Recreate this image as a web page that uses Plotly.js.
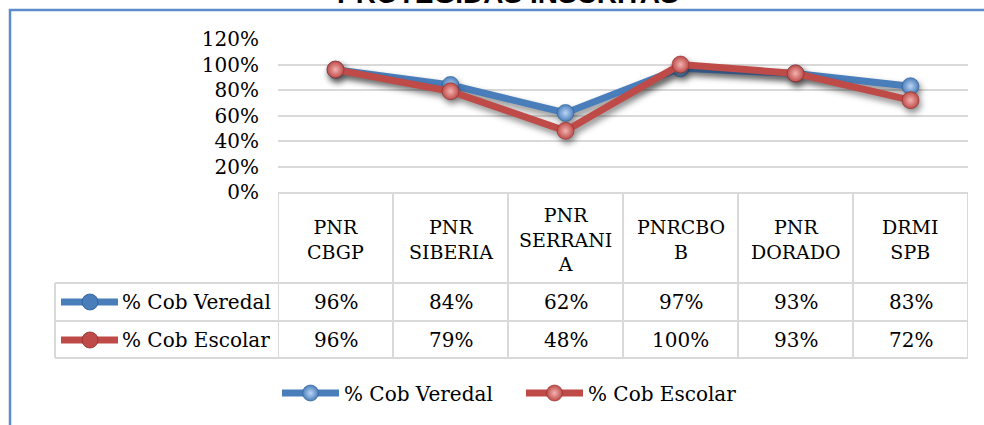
<!DOCTYPE html>
<html><head><meta charset="utf-8">
<script src="https://cdn.plot.ly/plotly-3.0.1.min.js"></script>
<style>
html,body{margin:0;padding:0;background:#fff;}
#chart{width:984px;height:425px;}
.scatterlayer .trace{filter:drop-shadow(2px 4px 3px rgba(0,0,0,0.45));}
</style></head><body><div id="chart"></div>
<script>
// ---- data ----
const categories = ["PNR CBGP","PNR SIBERIA","PNR SERRANIA","PNRCBOB","PNR DORADO","DRMI SPB"];
const headerLabels = ["PNR<br>CBGP","PNR<br>SIBERIA","PNR<br>SERRANI<br>A","PNRCBO<br>B","PNR<br>DORADO","DRMI<br>SPB"];
const seriesNames = ["% Cob Veredal","% Cob Escolar"];
const coberturaVeredal = [0.96,0.84,0.62,0.97,0.93,0.83];
const coberturaEscolar = [0.96,0.79,0.48,1.00,0.93,0.72];
const titleText = "PROTEGIDAS INSCRITAS";

// ---- styling / layout helpers ----
const FONT = "'DejaVu Serif', serif";
const colors = ["#4A7EBB","#BE4B48"];
const gradColors = ["#BBD5F5","#F2B3B1"];
const markerEdge = ["#2B5A94","#8E2C2A"];
const L = 278, R = 968, T = 39, B = 192;
const pw = R - L, ph = B - T;
const pxX = px => (px - L) / pw;
const pxY = py => (B - py) / ph;
const gridCol = "#D9D9D9";

const seriesData = [coberturaVeredal, coberturaEscolar];
const traces = seriesData.map((vals, i) => ({
  type: "scatter", mode: "lines+markers",
  name: seriesNames[i], x: categories, y: vals,
  line: {color: colors[i], width: 7},
  marker: {size: 17, color: colors[i],
           gradient: {type: "radial", color: gradColors[i]},
           line: {color: markerEdge[i], width: 0.6}},
  hoverinfo: "x+y"
}));

const shapes = [];
// outer chart border (blue)
shapes.push({type:"rect", xref:"paper", yref:"paper", x0:pxX(10), x1:pxX(1000), y0:pxY(440), y1:pxY(10),
  line:{color:"#5B8BC9", width:2.5}, fillcolor:"rgba(0,0,0,0)", layer:"below"});
// table horizontal lines
[283, 321, 358].forEach(yy => shapes.push({type:"line", xref:"paper", yref:"paper",
  x0:pxX(55), x1:1, y0:pxY(yy), y1:pxY(yy), line:{color:gridCol, width:2}}));
// table left border
shapes.push({type:"line", xref:"paper", yref:"paper", x0:pxX(55), x1:pxX(55), y0:pxY(283), y1:pxY(358),
  line:{color:gridCol, width:2}});
// category column separators
for (let i = 0; i <= categories.length; i++) {
  shapes.push({type:"line", xref:"x", yref:"paper", x0:i-0.5, x1:i-0.5, y0:0, y1:pxY(358),
    line:{color:gridCol, width:2}});
}
// legend keys inside table
const rowY = [302, 340];
seriesNames.forEach((n, i) => {
  shapes.push({type:"line", xref:"paper", yref:"paper", x0:pxX(61), x1:pxX(118), y0:pxY(rowY[i]), y1:pxY(rowY[i]),
    line:{color:colors[i], width:7}});
  shapes.push({type:"circle", xref:"paper", yref:"paper", x0:pxX(82), x1:pxX(98), y0:pxY(rowY[i]+8), y1:pxY(rowY[i]-8),
    fillcolor:colors[i], line:{color:markerEdge[i], width:0.8}});
});

const annotations = [];
const txtFont = {family: FONT, size: 20, color: "#000"};
categories.forEach((c, j) => {
  annotations.push({xref:"x", yref:"paper", x:j, y:pxY(239), text:headerLabels[j], showarrow:false,
    font:{family: FONT, size: 19, color:"#000"}, xanchor:"center", yanchor:"middle", align:"center"});
  seriesData.forEach((vals, i) => {
    annotations.push({xref:"x", yref:"paper", x:j, y:pxY(rowY[i]), text:Math.round(vals[j]*100) + "%",
      showarrow:false, font:txtFont, xanchor:"center", yanchor:"middle"});
  });
});
seriesNames.forEach((n, i) => {
  annotations.push({xref:"paper", yref:"paper", x:pxX(120), y:pxY(rowY[i]), text:n, showarrow:false,
    font:txtFont, xanchor:"left", yanchor:"middle"});
});
annotations.push({xref:"paper", yref:"paper", x:pxX(508), y:pxY(-6), text:"<b>" + titleText + "</b>", showarrow:false,
  font:{family:"Liberation Sans", size:28, color:"#000"}, xanchor:"center", yanchor:"middle"});

const layout = {
  width: 984, height: 425,
  margin: {l: L, r: 984 - R, t: T, b: 425 - B, pad: 0},
  paper_bgcolor: "#fff", plot_bgcolor: "#fff",
  showlegend: true,
  legend: {orientation:"h", x:pxX(277), xanchor:"left", y:pxY(393), yanchor:"middle",
    font:{family: FONT, size: 20, color:"#000"}, itemwidth: 57, entrywidth: 172, bgcolor:"rgba(0,0,0,0)"},
  xaxis: {type:"category", categoryarray: categories, range:[-0.5, categories.length - 0.5],
    showticklabels:false, showgrid:false, zeroline:false, showline:true, linecolor:gridCol, linewidth:2,
    fixedrange:true},
  yaxis: {range:[0, 1.2], dtick:0.2, tick0:0, tickformat:".0%", showgrid:true, gridcolor:gridCol, gridwidth:2,
    zeroline:false, showline:false, ticks:"", ticklabelstandoff:18,
    tickfont:{family: FONT, size: 20, color:"#000"}, fixedrange:true},
  shapes: shapes,
  annotations: annotations
};

Plotly.newPlot("chart", traces, layout, {displayModeBar:false, staticPlot:true});
</script></body></html>
